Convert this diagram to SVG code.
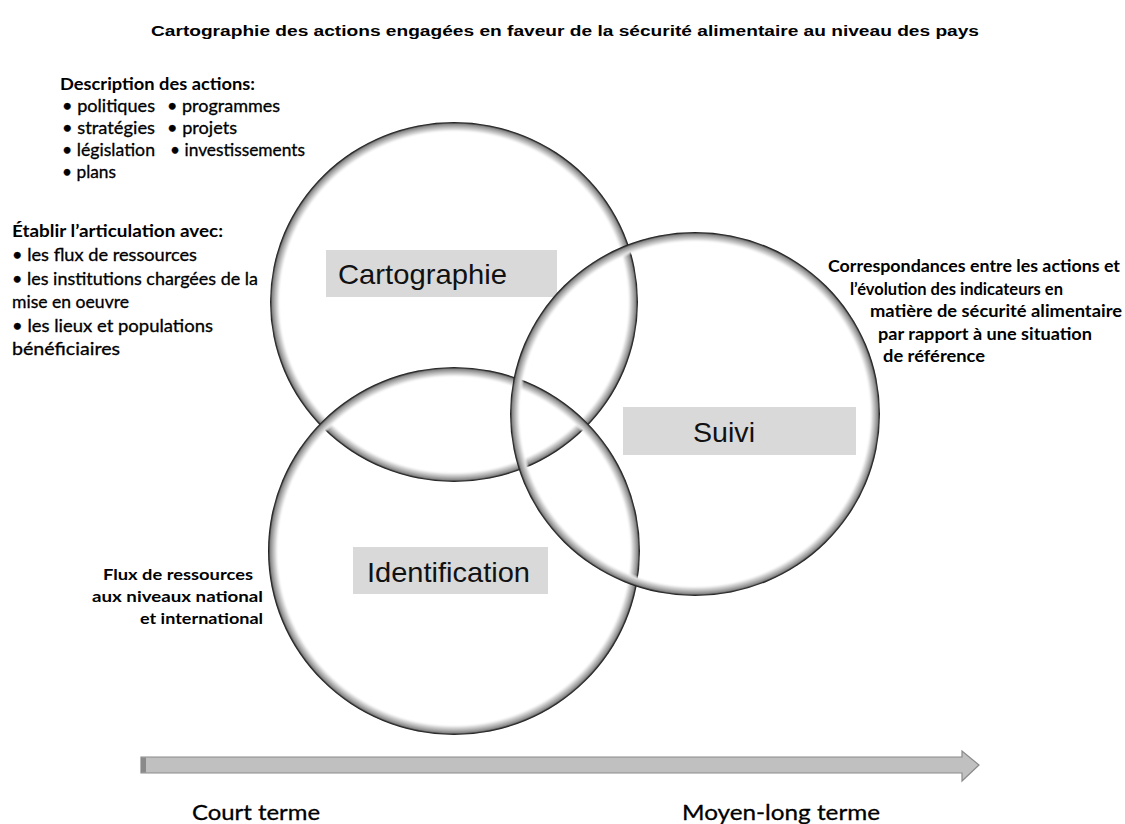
<svg xmlns="http://www.w3.org/2000/svg" width="1125" height="824" viewBox="0 0 1125 824">
<defs>
<radialGradient id="ring" cx="0.5" cy="0.5" r="0.5">
<stop offset="0" stop-color="#fff" stop-opacity="0"/>
<stop offset="0.94" stop-color="#fff" stop-opacity="0"/>
<stop offset="0.958" stop-color="#e0e0e0" stop-opacity="1"/>
<stop offset="0.975" stop-color="#b0b0b0"/>
<stop offset="0.988" stop-color="#888"/>
<stop offset="0.994" stop-color="#3a3a3a"/>
<stop offset="1" stop-color="#111"/>
</radialGradient>
</defs>
<style>
.title{font-family:"Liberation Sans",Arial,sans-serif;font-weight:bold;font-size:14.5px;fill:#000}
.box{fill:#d9d9d9}
.lab{font-family:"Liberation Sans",Arial,sans-serif;font-size:28px;fill:#111}
.ring{fill:url(#ring)}
.b{font-family:Lato,"Open Sans",sans-serif;font-weight:bold;font-size:17px;fill:#000}
.r{font-family:Lato,"Open Sans",sans-serif;font-size:17px;fill:#000;stroke:#000;stroke-width:0.3}
.bs{font-family:Lato,"Open Sans",sans-serif;font-weight:bold;font-size:14.5px;fill:#000}
.t{font-family:Lato,"Open Sans",sans-serif;font-size:22px;fill:#000;stroke:#000;stroke-width:0.3}
</style>
<rect width="1125" height="824" fill="#fff"/>
<text class="title" x="565" y="36" text-anchor="middle" textLength="828" lengthAdjust="spacingAndGlyphs">Cartographie des actions engagées en faveur de la sécurité alimentaire au niveau des pays</text>

<g id="desc">
<text class="b" x="60" y="90" textLength="195" lengthAdjust="spacingAndGlyphs">Description des actions:</text>
<text class="r" x="62" y="112" textLength="93" lengthAdjust="spacingAndGlyphs">• politiques</text>
<text class="r" x="167" y="112" textLength="113" lengthAdjust="spacingAndGlyphs">• programmes</text>
<text class="r" x="62" y="134" textLength="93" lengthAdjust="spacingAndGlyphs">• stratégies</text>
<text class="r" x="167" y="134" textLength="70" lengthAdjust="spacingAndGlyphs">• projets</text>
<text class="r" x="62" y="156" textLength="93" lengthAdjust="spacingAndGlyphs">• législation</text>
<text class="r" x="170" y="156" textLength="135" lengthAdjust="spacingAndGlyphs">• investissements</text>
<text class="r" x="62" y="178" textLength="54" lengthAdjust="spacingAndGlyphs">• plans</text>
</g>

<g id="articulation">
<text class="b" x="12" y="237" textLength="211" lengthAdjust="spacingAndGlyphs">Établir l’articulation avec:</text>
<text class="r" x="12" y="261" textLength="185" lengthAdjust="spacingAndGlyphs">• les flux de ressources</text>
<text class="r" x="12" y="285" textLength="246" lengthAdjust="spacingAndGlyphs">• les institutions chargées de la</text>
<text class="r" x="12" y="308" textLength="117" lengthAdjust="spacingAndGlyphs">mise en oeuvre</text>
<text class="r" x="12" y="332" textLength="201" lengthAdjust="spacingAndGlyphs">• les lieux et populations</text>
<text class="r" x="12" y="355" textLength="108" lengthAdjust="spacingAndGlyphs">bénéficiaires</text>
</g>

<g id="correspondances">
<text class="b" x="828" y="272" textLength="292" lengthAdjust="spacingAndGlyphs">Correspondances entre les actions et</text>
<text class="b" x="850" y="295" textLength="213" lengthAdjust="spacingAndGlyphs">l’évolution des indicateurs en</text>
<text class="b" x="870" y="317" textLength="252" lengthAdjust="spacingAndGlyphs">matière de sécurité alimentaire</text>
<text class="b" x="878" y="340" textLength="214" lengthAdjust="spacingAndGlyphs">par rapport à une situation</text>
<text class="b" x="883" y="362" textLength="102" lengthAdjust="spacingAndGlyphs">de référence</text>
</g>

<g id="flux">
<text class="bs" x="103" y="580" textLength="150" lengthAdjust="spacingAndGlyphs">Flux de ressources</text>
<text class="bs" x="92" y="602" textLength="171" lengthAdjust="spacingAndGlyphs">aux niveaux national</text>
<text class="bs" x="140" y="624" textLength="123" lengthAdjust="spacingAndGlyphs">et international</text>
</g>

<g id="node-cartographie">
<rect class="box" x="326" y="250" width="231" height="47"/>
<text class="lab" x="338" y="284" textLength="169" lengthAdjust="spacingAndGlyphs">Cartographie</text>
<ellipse class="ring" cx="454" cy="302" rx="184" ry="180"/>
</g>

<g id="node-identification">
<rect class="box" x="353" y="547" width="195" height="47"/>
<text class="lab" x="367" y="582" textLength="163" lengthAdjust="spacingAndGlyphs">Identification</text>
<ellipse class="ring" cx="454" cy="551" rx="186" ry="184"/>
</g>

<g id="node-suivi">
<rect class="box" x="623" y="407" width="233" height="48"/>
<text class="lab" x="693" y="442" textLength="62" lengthAdjust="spacingAndGlyphs">Suivi</text>
<ellipse class="ring" cx="695" cy="414" rx="185" ry="182"/>
</g>

<g id="connectors">
<path d="M141 757 H962 V751 L979 765 L962 781 V773 H141 Z" fill="#c0c0c0" stroke="#8a8a8a" stroke-width="1.2"/>
<rect x="141" y="757.5" width="5" height="15" fill="#8a8a8a"/>
</g>

<g id="timeline-labels">
<text class="t" x="192" y="820" textLength="128" lengthAdjust="spacingAndGlyphs">Court terme</text>
<text class="t" x="682" y="820" textLength="198" lengthAdjust="spacingAndGlyphs">Moyen-long terme</text>
</g>
</svg>
